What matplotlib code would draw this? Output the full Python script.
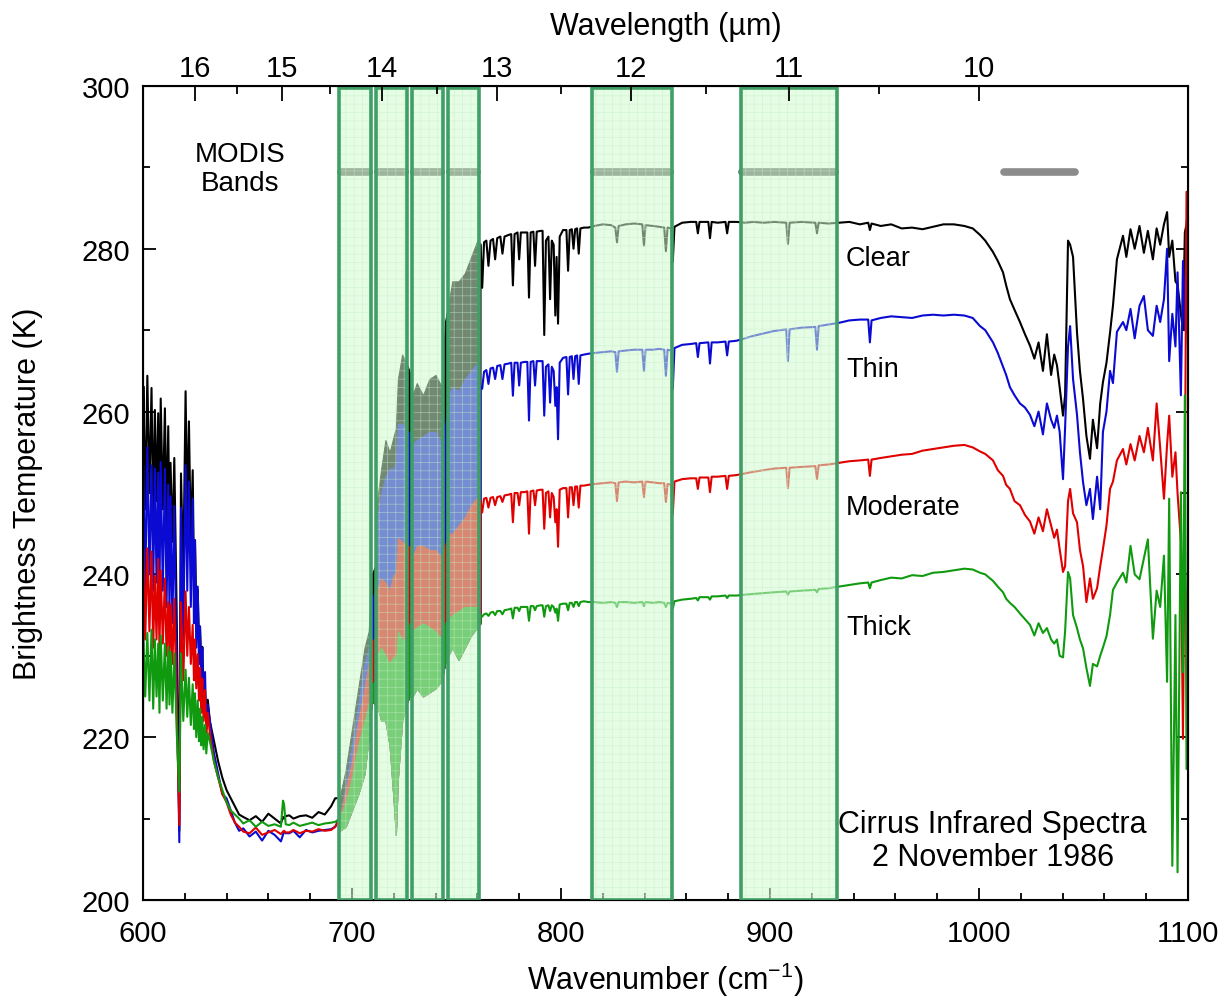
import matplotlib.pyplot as plt
from matplotlib.patches import Rectangle
from matplotlib.ticker import MultipleLocator

plt.rcParams['font.family'] = ['Liberation Sans', 'DejaVu Sans']
plt.rcParams['mathtext.fontset'] = 'custom'
plt.rcParams['mathtext.rm'] = 'Liberation Sans'
plt.rcParams['mathtext.default'] = 'regular'
plt.rcParams['hatch.linewidth'] = 0.5

# --- spectra, 600-631 cm-1 (spiky part) and 632-694 cm-1 (CO2 floor) ---
wn_low = [600.0, 600.2, 601.1, 602.1, 603.1, 604.1, 604.9, 605.7, 606.5, 607.3,
          607.9, 608.5, 609.5, 610.5, 611.3, 612.1, 612.7, 613.2, 614.1, 615.0,
          616.1, 617.4, 618.2, 619.3, 620.4, 621.2, 622.0, 622.9, 623.8, 624.4,
          624.9, 625.5, 626.2, 626.8, 627.3, 627.9, 628.4, 629.0, 629.7, 630.3,
          631.0,
          632, 634, 636, 638, 640, 642, 644, 646, 648, 651,
          654, 657, 660, 663, 666, 667, 667.5, 668.3, 670, 672,
          675, 678, 681, 684, 687, 690, 692, 694]
clear_low = [226, 263.1, 248, 264.4, 250, 262.9, 247, 260.2, 249, 259.8,
             246, 261.6, 248, 260.4, 246, 258.2, 245, 253.7, 244, 254.3,
             236, 208.5, 252.4, 240, 262.5, 247, 258.8, 244, 252.8, 240,
             244.2, 236, 238.1, 232, 233.6, 229, 231.1, 226, 225.8, 222,
             224.6,
             222, 219.5, 217, 215, 213.5, 212.5, 211.5, 210.5, 210.2, 209.8,
             210.3, 209.6, 210.6, 210.0, 209.4, 210.2, 210.0, 210.3, 210.4, 210.0,
             210.3, 210.4, 210.1, 210.8, 210.5, 211.5, 212.5, 212.5]
thin_low = [225, 253.4, 238, 255.6, 240, 253.4, 238, 253.0, 239, 252.5,
            237, 253.8, 238, 253.0, 236, 251.0, 235, 249.6, 234, 248.4,
            228, 207.1, 248.2, 232, 253.4, 238, 251.4, 236, 249.3, 234,
            244.2, 231, 238.5, 229, 233.6, 226, 231.0, 224, 228.0, 221,
            224,
            222, 218, 215.5, 213, 212.5, 211, 209.5, 208.5, 208.8, 207.8,
            208.4, 207.3, 208.5, 208.0, 207.2, 208.0, 208.4, 208.2, 208.2, 208.5,
            207.7, 208.6, 208.3, 208.5, 208.6, 208.7, 209.0, 210.0]
moderate_low = [224, 243.1, 232, 243.2, 233, 242.8, 231, 239.8, 232, 241.9,
                230.5, 240.5, 231.5, 239.5, 230, 236.6, 229.5, 236.3, 229, 237.0,
                224, 209.2, 236.6, 227, 237.9, 230, 236.0, 229, 233.8, 227,
                232.0, 226, 230.2, 224.5, 228.5, 223, 227.2, 222, 225.8, 220.5,
                223,
                220.5, 217, 215, 213, 212, 210.5, 209.5, 209, 208.4, 208.2,
                208.9, 208.0, 208.3, 208.6, 208.1, 208.4, 208.5, 208.3, 208.3, 208.6,
                208.2, 208.5, 208.4, 208.7, 208.5, 208.6, 209.0, 210.0]
thick_low = [221.5, 232.4, 225, 232.8, 224.5, 233.2, 223.5, 232.0, 225, 231.5,
             223, 232.5, 224.5, 231.5, 223.5, 231.1, 224, 230.5, 223, 230.3,
             221, 213.3, 230.3, 222, 228.3, 222.5, 227.3, 221.5, 226.5, 221,
             225.4, 220, 224.5, 219.5, 223.5, 219, 222.5, 218.5, 221.5, 218,
             220.5,
             219.5, 217, 215, 213.5, 212, 211, 210.5, 210, 209.4, 209.8,
             209.0, 209.6, 209.1, 209.3, 209.0, 212.2, 211.8, 209.3, 209.2, 209.5,
             209.1, 209.3, 209.5, 209.2, 209.4, 209.5, 209.6, 210.0]

# --- 694-761.5 cm-1: dense CO2 lines, upper envelopes (and thick lower edge) ---
wn_band = [694, 697, 700, 703, 706, 708, 709.5, 711, 712, 714,
           716, 718, 720, 721, 722, 724, 726, 727.5, 729, 731,
           734, 737, 740, 743, 744.5, 746, 748, 751, 754, 757,
           760, 761.5]
clear_hi = [212.5, 216, 221, 226, 231, 233, 240, 241, 249, 253,
            256.5, 255, 257, 258, 264, 267, 266, 265, 262, 263.5,
            262, 264, 264.5, 263, 271, 273, 276, 276, 277, 279,
            281, 280.5]
thin_hi = [210, 214, 219, 224, 229, 231, 237, 238, 247, 250,
           252, 253, 253, 254, 258.5, 258.5, 257.5, 257.5, 256, 256.5,
           257, 257.5, 257.5, 256, 258, 262, 263, 262.5, 264, 265,
           266, 263]
moderate_hi = [210, 213.5, 217, 222, 226, 229, 232, 232, 238, 239.5,
               239, 238, 240, 240, 244.5, 244, 243.5, 243.5, 242, 243.5,
               243.5, 243, 243, 242, 243.5, 245, 245, 246, 247, 248.5,
               249.5, 249]
thick_hi = [210, 212, 215, 219, 222, 224, 226.5, 227, 230, 231,
            230, 229, 230, 229, 233, 232, 232, 234, 233, 233.5,
            234, 233.5, 233, 232, 234, 234.5, 235, 235.5, 236, 236,
            236, 235]
thick_lo = [208.5, 209, 211, 213, 215.5, 220, 224.5, 224, 224, 222,
            222, 219, 212, 208, 215, 222, 224, 225, 225, 226,
            225, 225.5, 226, 227, 229, 230, 231, 229.5, 231, 232.5,
            233.5, 234]

# --- 761.5-1100 cm-1: window and ozone band ---
wn_high = [761.5, 762.3, 763.2, 764.3, 765.3, 766.3, 767.5, 768.5, 769.5, 771,
           772, 773, 775, 776.2, 777, 777.8, 779.2, 780, 780.8, 782.5,
           783.9, 784.7, 785.5, 786.8, 787.6, 788.4, 790.2, 791.2, 792, 792.8,
           794, 794.8, 795.6, 796.5, 797.3, 797.9, 798.6, 799.4, 801, 802.6,
           803.4, 804.2, 805.2, 806, 806.8, 807.7, 808.5, 809.3, 811, 813,
           816, 820, 824, 826, 826.8, 827.6, 831, 835, 838.9, 839.7,
           840.5, 844, 847, 849.4, 850.2, 851, 852.7, 853.5, 854.3, 858,
           862, 864.7, 865.5, 866.3, 870.5, 871.3, 872.1, 875, 878.7, 879.5,
           880.3, 884, 888, 892, 897, 902, 907.8, 908.6, 909.4, 915,
           921.7, 922.5, 923.3, 928, 933, 938, 943, 947, 947.8, 948.6,
           953, 958, 963, 968, 973, 978, 983, 988, 993, 997,
           1000.5, 1003, 1006.7, 1009, 1011.5, 1013, 1014.8, 1017, 1019.6, 1022,
           1024.4, 1026.5, 1028.5, 1030.6, 1032.5, 1034.5, 1036, 1037.3, 1038.6, 1040.2,
           1041.2, 1042.6, 1043.6, 1045, 1046.9, 1048.3, 1049.8, 1051.4, 1053.1, 1054.5,
           1056.5, 1058, 1059.3, 1061, 1062.7, 1064.1, 1066, 1068.9, 1070.5, 1072.5,
           1074.5, 1076.8, 1078.9, 1080.8, 1083.2, 1085, 1086.7, 1088.5, 1090, 1091,
           1092.5, 1094, 1095, 1096.6, 1097.6, 1098.5, 1099.3, 1100]
clear_high = [280.5, 275.2, 280.8, 281, 277.9, 281, 281.2, 278.7, 281.3, 281.5,
              279.4, 281.5, 281.7, 281.8, 275.5, 281.8, 282, 278.7, 282, 282,
              282, 274.0, 282, 282.1, 277.9, 282.1, 282.2, 282.2, 269.4, 281,
              281.5, 273.8, 281, 280.5, 271.8, 279, 270.8, 281.5, 282.3, 282.3,
              277.3, 282.3, 282.4, 280.0, 282.4, 282.5, 279.4, 282.5, 282.6, 282.6,
              282.8, 283.0, 282.9, 282.6, 280.8, 282.8, 283.0, 283.1, 283.0, 280.4,
              282.9, 282.8, 282.7, 282.6, 279.7, 282.6, 282.5, 278.4, 282.7, 283.2,
              283.3, 283.3, 281.9, 283.3, 283.3, 281.3, 283.3, 283.2, 283.3, 281.9,
              283.3, 283.3, 283.2, 283.3, 283.2, 283.3, 283.2, 280.6, 283.2, 283.3,
              283.2, 281.9, 283.2, 283.1, 283.2, 283.3, 283.0, 283.2, 282.3, 283.1,
              282.8, 283.0, 282.5, 282.6, 282.4, 282.7, 283.0, 283.0, 282.8, 282.5,
              281.7, 281.0, 279.6, 278.5, 277.1, 275.5, 273.8, 272.5, 271.0, 269.5,
              268.1, 266.5, 268.5, 265.0, 269.5, 264.5, 267.0, 265.7, 263.0, 259.5,
              262.0, 281.0, 280.5, 279.0, 269.7, 265.0, 261.5, 257.0, 254.2, 259.0,
              255.5, 261.0, 263.6, 266.0, 269.7, 273.0, 278.7, 281.6, 279.0, 282.4,
              280.0, 282.8, 279.5, 282.2, 278.7, 282.5, 280.5, 283.0, 284.5, 279.0,
              281.0, 276.0, 275.6, 272.0, 270.0, 282.0, 283.0, 285.0]
thin_high = [263, 262.8, 264.9, 265.1, 263.4, 265.3, 265.4, 264.0, 265.6, 265.7,
             264.0, 265.8, 265.9, 266.0, 261.95, 266.0, 266.0, 263.2, 266.0, 266.1,
             266.1, 258.9, 266.1, 266.2, 263.2, 266.2, 266.2, 266.2, 259.5, 265.5,
             265.8, 261.1, 265.5, 265.0, 260.7, 263.0, 256.6, 266.0, 266.6, 266.7,
             262.1, 266.7, 266.8, 264.0, 266.8, 266.9, 263.4, 266.9, 267.0, 267.1,
             267.2, 267.3, 267.4, 267.3, 264.9, 267.4, 267.5, 267.6, 267.6, 265.0,
             267.6, 267.6, 267.7, 267.6, 264.4, 267.6, 267.5, 262.8, 267.8, 268.2,
             268.3, 268.4, 266.7, 268.4, 268.5, 265.9, 268.5, 268.5, 268.6, 266.9,
             268.6, 268.7, 269.0, 269.3, 269.6, 269.9, 270.1, 266.2, 270.1, 270.3,
             270.4, 267.6, 270.5, 270.7, 270.9, 271.2, 271.3, 271.3, 268.5, 271.2,
             271.5, 271.7, 271.6, 271.5, 271.8, 271.9, 271.8, 271.9, 271.8, 271.5,
             270.5, 270.0, 268.5, 267.2, 265.5, 264.5, 263.0, 262.0, 261.0, 260.5,
             259.6, 258.2, 260.0, 257.2, 261.0, 259.0, 258.0, 259.5, 257.5, 251.7,
             258.0, 268.0, 270.5, 264.0, 259.6, 255.0, 251.3, 248.5, 250.5, 246.8,
             252.0, 248.0, 257.5, 260.0, 265.0, 263.5, 269.8, 271.0, 270.0, 272.6,
             269.0, 273.0, 274.2, 270.0, 269.3, 273.0, 271.0, 273.8, 280.0, 266.2,
             272.0, 268.0, 277.1, 262.0, 278.5, 270.0, 281.0, 276.0]
moderate_high = [249, 247.6, 249.3, 249.4, 248.2, 249.4, 249.5, 248.5, 249.5, 249.6,
                 248.9, 249.7, 249.8, 249.9, 246.4, 250.0, 250.0, 248.5, 250.1, 250.1,
                 250.2, 245.0, 250.2, 250.3, 248.5, 250.3, 250.4, 250.4, 245.6, 250.0,
                 250.2, 247.0, 250.0, 249.5, 246.4, 248.0, 243.4, 250.4, 250.6, 250.6,
                 247.0, 250.7, 250.7, 248.5, 250.8, 250.8, 248.2, 250.9, 250.9, 251.0,
                 251.1, 251.2, 251.3, 251.2, 249.0, 251.3, 251.4, 251.3, 251.4, 249.5,
                 251.4, 251.3, 251.2, 251.2, 248.9, 251.1, 251.0, 247.4, 251.4, 251.7,
                 251.8, 251.8, 250.5, 251.9, 251.9, 250.1, 252.0, 252.0, 252.1, 250.5,
                 252.1, 252.2, 252.4, 252.6, 252.8, 253.0, 253.1, 250.6, 253.1, 253.2,
                 253.3, 251.7, 253.4, 253.5, 253.7, 253.9, 254.0, 254.1, 252.1, 254.1,
                 254.3, 254.5, 254.7, 254.8, 255.2, 255.4, 255.6, 255.8, 255.9, 255.6,
                 255.1, 254.8, 254.0, 252.8, 252.1, 251.0, 250.5, 249.0, 248.5, 247.3,
                 246.5, 245.0, 247.0, 245.3, 248.0, 246.0, 244.5, 245.5, 243.1, 240.3,
                 241.0, 249.0, 250.5, 247.5, 246.4, 243.0, 241.0, 236.6, 239.5, 237.0,
                 238.3, 241.0, 243.1, 246.0, 250.5, 251.4, 254.0, 255.4, 253.5, 256.0,
                 254.0, 257.0, 255.0, 258.0, 254.0, 261.0, 255.5, 249.3, 256.0, 259.5,
                 252.0, 255.0, 250.0, 244.0, 219.8, 250.0, 287.0, 268.0]
thick_high = [235, 234.8, 235.1, 235.2, 234.9, 235.3, 235.4, 235.0, 235.5, 235.5,
              235.1, 235.6, 235.7, 235.8, 234.6, 235.9, 235.9, 235.5, 236.0, 236.0,
              236.0, 234.3, 236.1, 236.1, 235.6, 236.1, 236.2, 236.2, 234.8, 236.1,
              236.2, 235.5, 236.2, 236.0, 235.3, 235.8, 234.3, 236.3, 236.4, 236.4,
              235.6, 236.5, 236.5, 236.0, 236.6, 236.6, 236.1, 236.6, 236.7, 236.6,
              236.6, 236.5, 236.6, 236.5, 236.0, 236.6, 236.6, 236.5, 236.6, 236.1,
              236.6, 236.5, 236.6, 236.5, 236.0, 236.5, 236.4, 235.8, 236.7, 236.9,
              237.0, 237.1, 236.8, 237.2, 237.2, 236.9, 237.3, 237.3, 237.4, 237.1,
              237.4, 237.4, 237.5, 237.6, 237.7, 237.8, 237.9, 237.5, 237.9, 238.0,
              238.1, 237.8, 238.2, 238.3, 238.5, 238.7, 238.9, 239.0, 238.3, 239.0,
              239.3, 239.6, 239.5, 239.9, 239.8, 240.2, 240.3, 240.5, 240.7, 240.6,
              240.2, 240.0, 239.2, 238.5, 237.8, 237.0, 236.5, 236.0, 235.2, 234.5,
              233.8, 232.5, 234.0, 232.8, 233.4, 232.0, 231.5, 232.0, 230.0, 229.8,
              233.0, 240.3, 239.5, 235.0, 233.4, 232.0, 230.9, 228.5, 226.3, 229.0,
              228.7, 230.0, 231.0, 232.4, 235.0, 238.1, 239.0, 240.2, 239.0, 243.5,
              240.0, 239.4, 242.0, 244.3, 232.1, 238.0, 236.0, 242.3, 226.8, 249.3,
              204.2, 235.0, 203.4, 250.1, 228.0, 262.0, 216.1, 240.0]

# MODIS band limits (cm-1)
band_lo = [693.8, 711.5, 728.7, 746.0, 814.8, 886.0]
band_hi = [709.0, 726.3, 743.5, 760.8, 853.1, 932.0]
band_1012 = [1012, 1046]

wl_major = [16, 15, 14, 13, 12, 11, 10]
wl_minor = [15.5, 14.5, 13.5, 12.5, 11.5, 10.5]

names = ['Clear', 'Thin', 'Moderate', 'Thick']
colors = ['black', '#0a0ad2', '#e00000', '#109a10']
lows = [clear_low, thin_low, moderate_low, thick_low]
his = [clear_hi, thin_hi, moderate_hi, thick_hi]
highs = [clear_high, thin_high, moderate_high, thick_high]
label_y = [278.9, 265.2, 248.3, 233.5]

fig = plt.figure(figsize=(12.26, 10.03), dpi=100)
ax = fig.add_axes([0.1166, 0.1017, 0.8524, 0.8116])

for i in range(4):
    ax.plot(wn_low, lows[i], color=colors[i], lw=1.5, zorder=2)
    ax.fill_between(wn_band, thick_lo, his[i], color=colors[i], lw=0.8, zorder=2)
    ax.plot(wn_high, highs[i], color=colors[i], lw=1.5, zorder=2)
    ax.text(936.4, label_y[i], names[i], fontsize=19.5, va='center', ha='left', zorder=6)

# MODIS band markers
for a, b in zip(band_lo, band_hi):
    ax.plot([a + 0.8, b - 0.8], [289.4, 289.4], color='#5e5e5e', lw=5.5, solid_capstyle='round', zorder=3)
    ax.add_patch(Rectangle((a, 200), b - a, 99.7, facecolor='#d1fad1', edgecolor='#c4f0c4',
                           lw=0, hatch='++', alpha=0.55, zorder=4))
    ax.add_patch(Rectangle((a, 200), b - a, 99.7, facecolor='none', edgecolor='#3f9f66',
                           lw=2.6, zorder=5))
ax.plot(band_1012, [289.4, 289.4], color='#8c8c8c', lw=5.5, solid_capstyle='round', zorder=3)

ax.text(646.4, 289.9, 'MODIS\nBands', fontsize=20, ha='center', va='center', linespacing=1.15)
ax.text(1006.5, 207.3, 'Cirrus Infrared Spectra\n2 November 1986', fontsize=22,
        ha='center', va='center', linespacing=1.1, zorder=6)

ax.set_xlim(600, 1100)
ax.set_ylim(200, 300)
ax.xaxis.set_major_locator(MultipleLocator(100))
ax.xaxis.set_minor_locator(MultipleLocator(20))
ax.yaxis.set_major_locator(MultipleLocator(20))
ax.yaxis.set_minor_locator(MultipleLocator(10))
ax.tick_params(which='both', direction='in', top=False, right=True, width=1.3, labelsize=21)
ax.tick_params(which='major', length=9)
ax.tick_params(axis='y', which='major', pad=9)
ax.tick_params(axis='x', which='major', pad=14)
ax.tick_params(which='minor', length=5)
for s in ax.spines.values():
    s.set_linewidth(1.5)
ax.set_xlabel('Wavenumber (cm$^{-1}$)', fontsize=22, labelpad=9)
ax.set_ylabel('Brightness Temperature (K)', fontsize=22)
ax.yaxis.set_label_coords(-0.096, 0.5)

# wavelength axis on top
ax2 = ax.twiny()
ax2.set_xlim(600, 1100)
ax2.set_xticks([1e4 / w for w in wl_major])
ax2.set_xticklabels([str(w) for w in wl_major])
ax2.set_xticks([1e4 / w for w in wl_minor], minor=True)
ax2.tick_params(which='both', direction='in', labelsize=21, width=1.3)
ax2.tick_params(which='major', length=11, pad=3)
ax2.tick_params(which='minor', length=6)
ax2.set_xlabel('Wavelength (µm)', fontsize=22, labelpad=14)

fig.savefig('out.png', dpi=100)
